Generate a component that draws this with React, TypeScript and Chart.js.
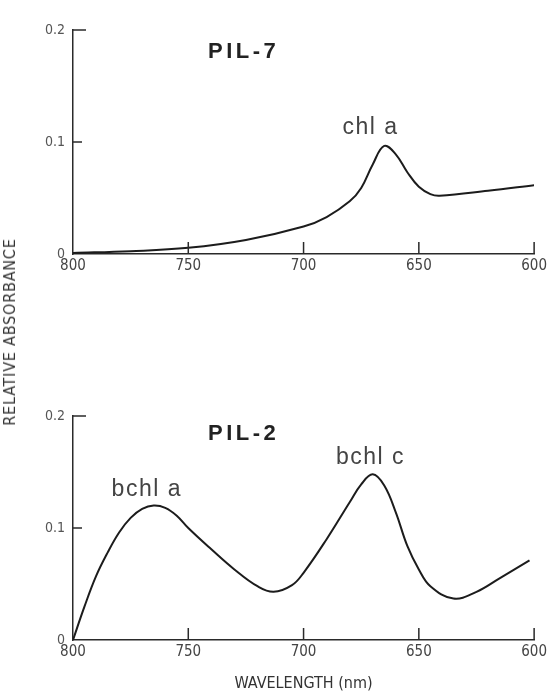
import React, { useEffect, useRef } from "react";
import { Chart, registerables } from "chart.js";

Chart.register(...registerables);

// ---- Data ----
const xTickValues = [800, 750, 700, 650, 600];
const yTickValues = [0, 0.1, 0.2];

const pil7Wavelength = [800, 775, 750, 725, 700, 690, 680, 675, 670, 665, 660, 655, 650, 645, 641, 620, 600];
const pil7Absorbance = [0.001, 0.0025, 0.0055, 0.0125, 0.0245, 0.033, 0.047, 0.059, 0.08, 0.0965, 0.089, 0.073, 0.06, 0.0535, 0.052, 0.0565, 0.0615];

const pil2Wavelength = [800, 795, 790, 785, 780, 775, 770, 765, 760, 755, 750, 740, 730, 720, 713, 705, 700, 690, 680, 675, 670, 665, 660, 655, 650, 645, 635, 625, 615, 602];
const pil2Absorbance = [0, 0.03, 0.057, 0.078, 0.096, 0.109, 0.117, 0.12, 0.118, 0.111, 0.1, 0.081, 0.063, 0.048, 0.043, 0.049, 0.06, 0.09, 0.123, 0.139, 0.148, 0.138, 0.114, 0.084, 0.063, 0.048, 0.037, 0.043, 0.055, 0.071];

const pil7Labels = [
  { text: "PIL-7", x: 726, y: 0.18, bold: true },
  { text: "chl a", x: 671, y: 0.1125, bold: false },
];
const pil2Labels = [
  { text: "PIL-2", x: 726, y: 0.184, bold: true },
  { text: "bchl a", x: 768, y: 0.134, bold: false },
  { text: "bchl c", x: 671, y: 0.163, bold: false },
];

const TICK_FONT = "'Liberation Sans Narrow', 'DejaVu Sans Condensed', sans-serif";

const innerTicksPlugin = {
  id: "innerTicks",
  afterDraw(chart: any) {
    const { ctx, scales } = chart;
    const xs = scales.x;
    const ys = scales.y;
    const area = chart.chartArea;
    ctx.save();
    ctx.strokeStyle = "#2a2a2a";
    ctx.lineWidth = 1.5;
    ctx.beginPath();
    xTickValues.forEach((v) => {
      if (v === 800) return;
      const px = xs.getPixelForValue(v);
      ctx.moveTo(px, area.bottom);
      ctx.lineTo(px, area.bottom - 12);
    });
    yTickValues.forEach((v) => {
      if (v === 0) return;
      const py = ys.getPixelForValue(v);
      ctx.moveTo(area.left, py);
      ctx.lineTo(area.left + (v === 0.2 ? 13 : 9), py);
    });
    ctx.stroke();
    ctx.restore();
  },
};

const annotationPlugin = {
  id: "textNotes",
  afterDraw(chart: any, _args: any, opts: any) {
    const { ctx, scales } = chart;
    const notes = opts.notes || [];
    ctx.save();
    ctx.textAlign = "center";
    ctx.textBaseline = "middle";
    notes.forEach((n: any) => {
      const px = scales.x.getPixelForValue(n.x);
      const py = scales.y.getPixelForValue(n.y);
      if (n.bold) {
        ctx.font = "bold 22px 'Liberation Sans', Arial, sans-serif";
        ctx.fillStyle = "#222";
        (ctx as any).letterSpacing = "3.5px";
      } else {
        ctx.font = "23px 'Liberation Sans', Arial, sans-serif";
        ctx.fillStyle = "#444";
        (ctx as any).letterSpacing = "1.5px";
      }
      ctx.fillText(n.text, px, py);
    });
    ctx.restore();
  },
};

function makeConfig(xs: number[], ys: number[], notes: any[], rightPad: number, xAxisHeight: number, showTitle: boolean) {
  return {
    type: "line" as const,
    data: {
      datasets: [
        {
          data: xs.map((x, i) => ({ x, y: ys[i] })),
          borderColor: "#1c1c1c",
          borderWidth: 2,
          pointRadius: 0,
          tension: 0.4,
          fill: false,
        },
      ],
    },
    options: {
      animation: false as const,
      responsive: false,
      layout: { padding: { left: 0, right: rightPad, top: 30, bottom: 0 } },
      plugins: {
        legend: { display: false },
        tooltip: { enabled: false },
        textNotes: { notes },
      },
      scales: {
        x: {
          type: "linear" as const,
          reverse: true,
          min: 600,
          max: 800,
          afterBuildTicks: (axis: any) => {
            axis.ticks = xTickValues.map((v) => ({ value: v }));
          },
          afterFit: (axis: any) => {
            axis.height = xAxisHeight;
          },
          grid: { display: true, drawOnChartArea: false, drawTicks: false },
          border: { display: true, color: "#2a2a2a", width: 1.5 },
          ticks: {
            padding: 3,
            color: "#444",
            maxRotation: 0,
            autoSkip: false,
            font: { family: TICK_FONT, size: 15 },
            callback: (v: any) => String(v),
          },
          title: {
            display: showTitle,
            text: "WAVELENGTH (nm)",
            color: "#333",
            font: { family: TICK_FONT, size: 16 },
            padding: { top: 0, bottom: -2 },
          },
        },
        y: {
          type: "linear" as const,
          min: 0,
          max: 0.2,
          afterBuildTicks: (axis: any) => {
            axis.ticks = yTickValues.map((v) => ({ value: v }));
          },
          afterFit: (axis: any) => {
            axis.width = 73;
          },
          grid: { display: true, drawOnChartArea: false, drawTicks: false },
          border: { display: true, color: "#2a2a2a", width: 1.5 },
          ticks: {
            padding: 8,
            color: "#555",
            font: { family: TICK_FONT, size: 14 },
            callback: (v: any) => (v === 0 ? "0" : Number(v).toFixed(1)),
          },
        },
      },
    },
    plugins: [innerTicksPlugin, annotationPlugin],
  };
}

export default function App() {
  const topRef = useRef<HTMLCanvasElement>(null);
  const botRef = useRef<HTMLCanvasElement>(null);

  useEffect(() => {
    const c1 = new Chart(topRef.current as HTMLCanvasElement, makeConfig(pil7Wavelength, pil7Absorbance, pil7Labels, 14, 46, false) as any);
    const c2 = new Chart(botRef.current as HTMLCanvasElement, makeConfig(pil2Wavelength, pil2Absorbance, pil2Labels, 13, 51, true) as any);
    return () => {
      c1.destroy();
      c2.destroy();
    };
  }, []);

  return (
    <div style={{ position: "absolute", left: 0, top: 0, width: 550, height: 691, background: "#fff", overflow: "hidden" }}>
      <canvas ref={topRef} width={550} height={300} style={{ position: "absolute", left: 0, top: 0, width: 550, height: 300 }} />
      <canvas ref={botRef} width={550} height={305} style={{ position: "absolute", left: 0, top: 386, width: 550, height: 305 }} />
      <div
        style={{
          position: "absolute",
          left: 10,
          top: 332,
          transform: "translate(-50%, -50%) rotate(-90deg)",
          whiteSpace: "nowrap",
          fontFamily: TICK_FONT,
          fontSize: 16,
          color: "#333",
          letterSpacing: "0.8px",
          lineHeight: "16px",
        }}
      >
        RELATIVE ABSORBANCE
      </div>
    </div>
  );
}
